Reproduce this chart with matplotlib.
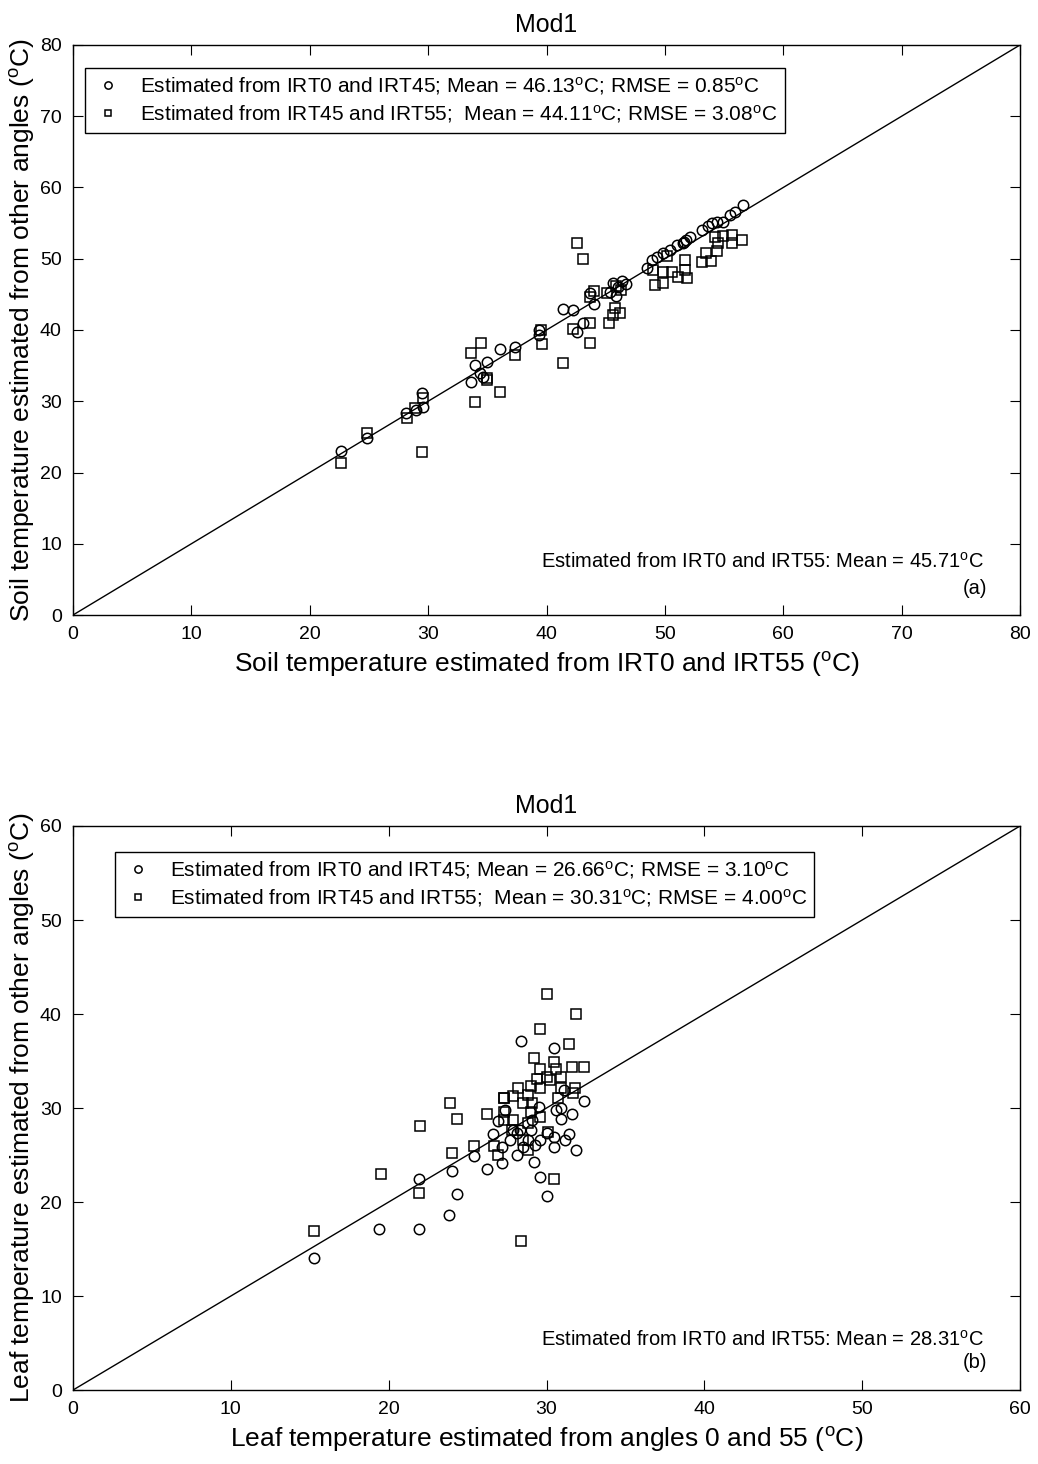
import matplotlib
matplotlib.use('Agg')
import matplotlib.pyplot as plt
import numpy as np

plt.rcParams['font.family'] = ['Liberation Sans', 'DejaVu Sans']
plt.rcParams['mathtext.fontset'] = 'custom'
plt.rcParams['mathtext.rm'] = 'Liberation Sans'
plt.rcParams['mathtext.it'] = 'Liberation Sans'

# ---- panel (a): soil temperature ----
a_c_x = [22.6, 24.8, 28.1, 29.0, 29.5, 29.6, 33.6, 34.0, 34.4, 35.0, 34.6, 36.1, 37.3,
         39.4, 39.4, 41.4, 42.2, 42.6, 43.1, 44.0, 43.7, 45.6, 46.0, 46.4, 46.7, 45.4, 45.9,
         48.5, 48.9, 49.3, 49.8, 50.4, 51.0, 51.5, 51.8, 52.1, 51.6,
         53.1, 53.6, 54.0, 54.4, 54.9, 55.5, 55.9, 56.6]
a_c_y = [23.0, 24.8, 28.3, 28.8, 31.2, 29.2, 32.7, 35.1, 34.0, 35.5, 33.4, 37.3, 37.6,
         40.0, 39.3, 42.9, 42.8, 39.7, 41.0, 43.6, 45.2, 46.6, 46.0, 46.9, 46.5, 45.3, 44.8,
         48.7, 49.8, 50.2, 50.8, 51.2, 51.9, 52.2, 52.6, 53.0, 52.4,
         54.0, 54.6, 55.0, 55.2, 55.2, 56.1, 56.6, 57.5]

a_s_x = [22.6, 24.8, 28.2, 28.9, 29.6, 29.5, 34.0, 36.1, 35.0, 34.5, 33.6, 37.3, 35.0,
         39.5, 39.6, 41.4, 42.2, 42.6, 43.1, 43.7, 43.7, 44.0, 43.7, 45.3, 45.1,
         45.8, 46.2, 45.6, 46.3, 45.9,
         49.0, 49.2, 49.8, 49.8, 50.6, 51.1, 51.9, 51.7, 51.7, 50.2,
         53.1, 53.9, 53.5, 54.4, 54.5, 54.2, 54.9, 55.7, 56.5, 55.7]
a_s_y = [21.3, 25.5, 27.6, 29.0, 30.4, 22.9, 29.9, 31.3, 33.0, 38.2, 36.8, 36.5, 33.3,
         40.0, 38.0, 35.3, 40.1, 52.2, 50.0, 41.0, 38.2, 45.5, 44.6, 41.0, 45.2,
         43.1, 42.4, 42.1, 45.6, 46.2,
         48.4, 46.3, 48.1, 46.6, 48.1, 47.4, 47.3, 48.4, 49.8, 50.4,
         49.5, 49.7, 50.8, 51.1, 52.2, 53.1, 53.2, 53.3, 52.6, 52.2]

# ---- panel (b): leaf temperature ----
b_c_x = [15.3, 19.4, 21.9, 21.9, 23.8, 24.0, 24.3, 25.4, 26.2, 26.6, 26.9, 27.2, 28.1,
         28.4, 30.5, 32.4, 31.6, 30.9, 31.4, 31.9, 30.5, 29.2, 29.6, 30.0, 29.5, 30.9,
         28.3, 28.8, 27.7, 27.2, 29.0, 29.6, 30.0, 28.5, 28.1, 30.5, 27.4, 29.1, 30.6,
         31.1, 27.9, 29.3, 31.2]
b_c_y = [14.0, 17.1, 17.1, 22.4, 18.6, 23.3, 20.9, 24.9, 23.5, 27.2, 28.6, 24.1, 25.0,
         37.1, 36.4, 30.7, 29.4, 28.8, 27.2, 25.5, 25.9, 24.3, 22.7, 20.6, 30.1, 30.0,
         27.7, 26.6, 26.6, 25.9, 27.7, 26.6, 27.3, 25.9, 27.3, 26.9, 29.8, 28.7, 29.8,
         31.9, 27.7, 26.1, 26.6]

b_s_x = [15.3, 19.5, 22.0, 21.9, 23.9, 24.3, 24.0, 25.4, 26.2, 26.7, 26.9, 27.3, 27.9,
         27.3, 27.3, 28.4, 30.5, 28.8, 28.8, 29.6, 30.1, 29.0, 27.8, 28.5,
         30.0, 31.9, 29.6, 31.4, 29.2, 30.5, 31.6, 32.4, 29.6, 30.6, 30.0, 30.9, 29.4,
         30.2, 29.0, 29.6, 28.2, 30.9, 31.8, 27.9, 28.8, 27.3, 30.7, 31.7, 28.5, 29.1]
b_s_y = [16.9, 23.0, 28.1, 21.0, 30.5, 28.8, 25.2, 26.0, 29.4, 26.0, 25.0, 29.6, 28.7,
         28.7, 31.1, 15.9, 22.4, 25.5, 28.4, 29.0, 27.4, 29.6, 27.7, 26.6,
         42.1, 40.0, 38.4, 36.8, 35.3, 34.9, 34.4, 34.4, 34.1, 34.1, 33.3, 33.3, 33.1,
         33.0, 32.3, 32.1, 32.1, 32.1, 32.1, 31.3, 31.4, 31.1, 31.1, 31.6, 30.5, 30.5]

deg = r'($^{\rm o}$C)'
panels = [
    dict(cx=a_c_x, cy=a_c_y, sx=a_s_x, sy=a_s_y, lim=80, step=10,
         pos=[0.0703, 0.5799, 0.9124, 0.3894],
         c_lab=r'Estimated from IRT0 and IRT45; Mean = 46.13$^{\rm o}$C; RMSE = 0.85$^{\rm o}$C',
         s_lab=r'Estimated from IRT45 and IRT55;  Mean = 44.11$^{\rm o}$C; RMSE = 3.08$^{\rm o}$C',
         note=r'Estimated from IRT0 and IRT55: Mean = 45.71$^{\rm o}$C', tag='(a)',
         xl='Soil temperature estimated from IRT0 and IRT55 ' + deg,
         yl='Soil temperature estimated from other angles ' + deg,
         leg_xy=(0.013, 0.96), note_y=(0.093, 0.047)),
    dict(cx=b_c_x, cy=b_c_y, sx=b_s_x, sy=b_s_y, lim=60, step=10,
         pos=[0.0703, 0.0505, 0.9124, 0.3853],
         c_lab=r'Estimated from IRT0 and IRT45; Mean = 26.66$^{\rm o}$C; RMSE = 3.10$^{\rm o}$C',
         s_lab=r'Estimated from IRT45 and IRT55;  Mean = 30.31$^{\rm o}$C; RMSE = 4.00$^{\rm o}$C',
         note=r'Estimated from IRT0 and IRT55: Mean = 28.31$^{\rm o}$C', tag='(b)',
         xl='Leaf temperature estimated from angles 0 and 55 ' + deg,
         yl='Leaf temperature estimated from other angles ' + deg,
         leg_xy=(0.044, 0.954), note_y=(0.089, 0.048)),
]

fig = plt.figure(figsize=(10.38, 14.64), dpi=100)

for p in panels:
    ax = fig.add_axes(p['pos'])
    ax.plot([0, p['lim']], [0, p['lim']], color='black', lw=1)
    ax.plot(p['cx'], p['cy'], 'o', mfc='none', mec='black', ms=7.5, mew=1.1,
            label=p['c_lab'])
    ax.plot(p['sx'], p['sy'], 's', mfc='none', mec='black', ms=6.5, mew=1.1,
            label=p['s_lab'])
    ax.set_xlim(0, p['lim'])
    ax.set_ylim(0, p['lim'])
    ticks = np.arange(0, p['lim'] + 1, p['step'])
    ax.set_xticks(ticks)
    ax.set_yticks(ticks)
    ax.tick_params(direction='in', top=True, right=True, length=7, labelsize=14, pad=8)
    for s in ax.spines.values():
        s.set_linewidth(1)
    ax.set_title('Mod1', fontsize=18, pad=9)
    ax.set_xlabel(p['xl'], fontsize=19, labelpad=5)
    ax.set_ylabel(p['yl'], fontsize=19, labelpad=2)
    leg = ax.legend(loc='upper left', bbox_to_anchor=p['leg_xy'], borderaxespad=0,
                    fontsize=15, fancybox=False, edgecolor='black', framealpha=1,
                    markerscale=0.7, handlelength=1.5, borderpad=0.35, labelspacing=0.3)
    leg.get_frame().set_linewidth(1)
    ax.text(0.962, p['note_y'][0], p['note'], transform=ax.transAxes,
            ha='right', va='center', fontsize=14.5)
    ax.text(0.965, p['note_y'][1], p['tag'], transform=ax.transAxes,
            ha='right', va='center', fontsize=14.5)

fig.savefig('out.png', dpi=100)
